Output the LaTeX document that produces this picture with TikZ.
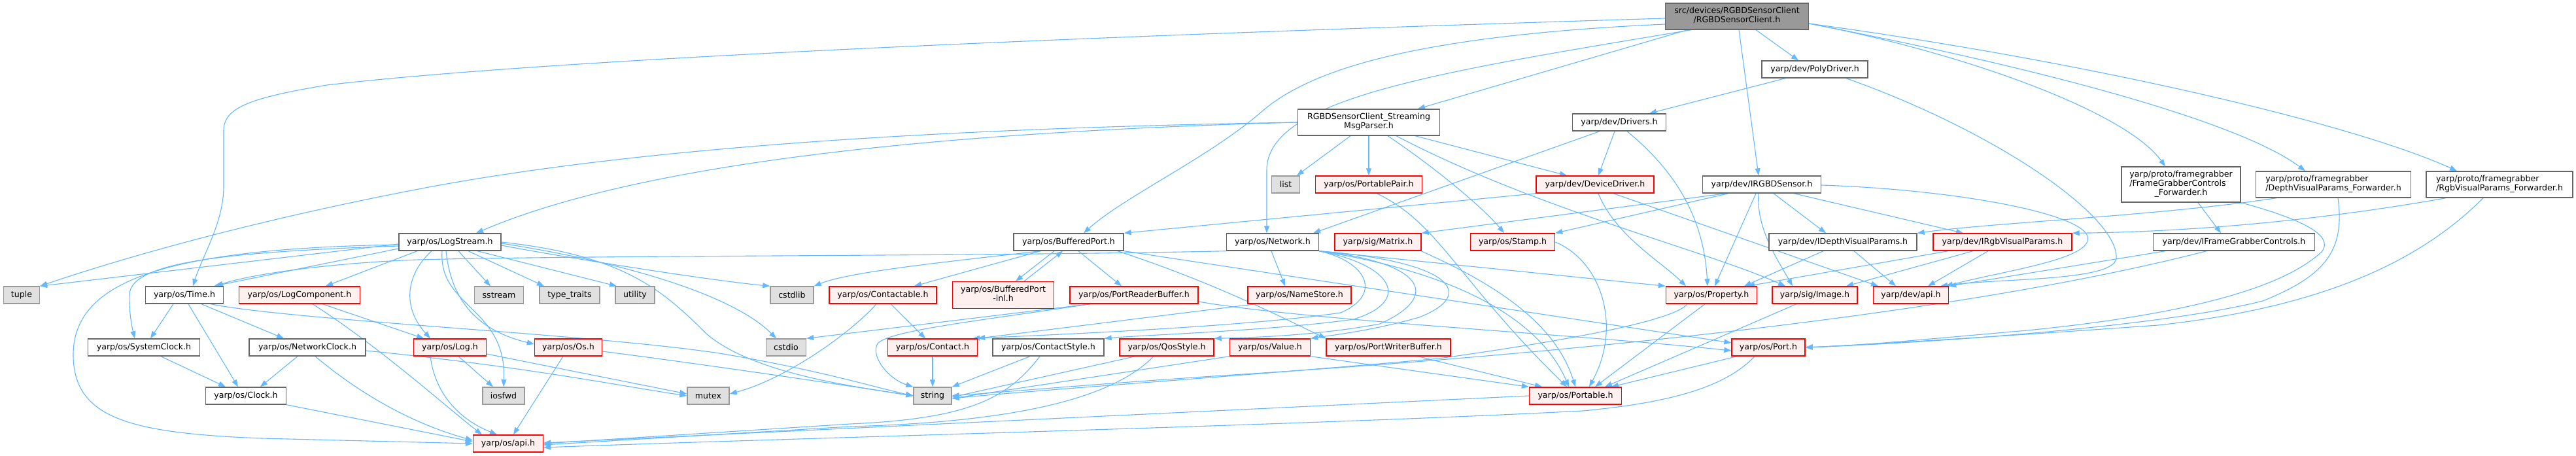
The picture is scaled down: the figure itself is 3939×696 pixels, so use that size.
\documentclass[tikz,border=0pt]{standalone}
\usepackage{fontspec}
\setmainfont{DejaVu Sans}
\usetikzlibrary{arrows.meta}
\definecolor{edgeblue}{HTML}{63B8FF}
\definecolor{nodegray}{HTML}{666666}
\definecolor{nodered}{HTML}{FF0000}
\definecolor{nodepink}{HTML}{FFF0F0}
\definecolor{sysborder}{HTML}{999999}
\definecolor{sysfill}{HTML}{E0E0E0}
\definecolor{rootfill}{HTML}{999999}
\newcommand{\nfont}{\fontsize{12.6}{14}\selectfont}
\newcommand{\twol}[2]{\begin{tabular}{@{}l@{}}#1\\\multicolumn{1}{@{}c@{}}{#2}\end{tabular}}
\newcommand{\threel}[3]{\begin{tabular}{@{}l@{}}#1\\#2\\\multicolumn{1}{@{}c@{}}{#3}\end{tabular}}
\pgfdeclarelayer{bg}
\pgfsetlayers{bg,main}
\tikzset{
  nb/.style={draw=nodegray, fill=white, line width=1.4pt, inner sep=0pt, minimum height=26pt, font=\nfont},
  rd/.style={nb, draw=nodered, fill=nodepink},
  sy/.style={nb, draw=sysborder, fill=sysfill},
  rt/.style={nb, draw=nodegray, fill=rootfill},
  e/.style={draw=edgeblue, line width=1.1pt, -{Triangle[length=11pt,width=8pt]}},
}
\begin{document}
\begin{tikzpicture}[x=1pt,y=-1pt]
\useasboundingbox (0,0) rectangle (3939,696);
% ---------- nodes ----------
\node[rt, minimum width=219pt, minimum height=40pt] (root) at (2656,25) {\twol{src/devices/RGBDSensorClient}{/RGBDSensorClient.h}};
\node[nb, minimum width=162pt] (pd) at (2775,106) {yarp/dev/PolyDriver.h};
\node[nb, minimum width=217pt, minimum height=40pt] (mp) at (2093,187) {\twol{RGBDSensorClient\_Streaming}{MsgParser.h}};
\node[nb, minimum width=143pt] (drv) at (2476,187) {yarp/dev/Drivers.h};
\node[sy, minimum width=43pt] (list) at (1966,282) {list};
\node[rd, minimum width=163pt] (pp) at (2093,282) {yarp/os/PortablePair.h};
\node[rd, minimum width=180pt] (dd) at (2439,282) {yarp/dev/DeviceDriver.h};
\node[nb, minimum width=181pt] (irs) at (2694,282) {yarp/dev/IRGBDSensor.h};
\node[nb, minimum width=182pt, minimum height=54pt] (fgcf) at (3335,282) {\threel{yarp/proto/framegrabber}{/FrameGrabberControls}{\_Forwarder.h}};
\node[nb, minimum width=237pt, minimum height=40pt] (dvpf) at (3568,282) {\twol{yarp/proto/framegrabber}{/DepthVisualParams\_Forwarder.h}};
\node[nb, minimum width=224pt, minimum height=40pt] (rvpf) at (3822,282) {\twol{yarp/proto/framegrabber}{/RgbVisualParams\_Forwarder.h}};
\node[nb, minimum width=156pt] (ls) at (688,370) {yarp/os/LogStream.h};
\node[nb, minimum width=168pt] (bp) at (1634,370) {yarp/os/BufferedPort.h};
\node[nb, minimum width=141pt] (nw) at (1946,370) {yarp/os/Network.h};
\node[rd, minimum width=132pt] (mat) at (2107,370) {yarp/sig/Matrix.h};
\node[rd, minimum width=129pt] (stamp) at (2313,370) {yarp/os/Stamp.h};
\node[nb, minimum width=226pt] (idvp) at (2818,370) {yarp/dev/IDepthVisualParams.h};
\node[rd, minimum width=212pt] (irvp) at (3062,370) {yarp/dev/IRgbVisualParams.h};
\node[nb, minimum width=247pt] (ifgc) at (3416,370) {yarp/dev/IFrameGrabberControls.h};
\node[sy, minimum width=55pt] (tuple) at (33,451) {tuple};
\node[nb, minimum width=119pt] (time) at (282,451) {yarp/os/Time.h};
\node[rd, minimum width=185pt] (logc) at (458,451) {yarp/os/LogComponent.h};
\node[sy, minimum width=75pt] (sstream) at (763,451) {sstream};
\node[sy, minimum width=92pt] (tt) at (871,451) {type\_traits};
\node[sy, minimum width=60pt] (util) at (971,451) {utility};
\node[sy, minimum width=66pt] (cstdlib) at (1211,451) {cstdlib};
\node[rd, minimum width=164pt] (ctb) at (1350,451) {yarp/os/Contactable.h};
\node[rd, minimum width=155pt, minimum height=41pt] (bpinl) at (1534,451) {\twol{yarp/os/BufferedPort}{-inl.h}};
\node[rd, minimum width=196pt] (prb) at (1734,451) {yarp/os/PortReaderBuffer.h};
\node[rd, minimum width=158pt] (ns) at (1987,451) {yarp/os/NameStore.h};
\node[rd, minimum width=139pt] (prop) at (2617,451) {yarp/os/Property.h};
\node[rd, minimum width=130pt] (img) at (2775,451) {yarp/sig/Image.h};
\node[rd, minimum width=115pt] (devapi) at (2922,451) {yarp/dev/api.h};
\node[nb, minimum width=171pt] (sysc) at (220,531) {yarp/os/SystemClock.h};
\node[nb, minimum width=178pt] (netc) at (470,531) {yarp/os/NetworkClock.h};
\node[rd, minimum width=111pt] (log) at (688,531) {yarp/os/Log.h};
\node[rd, minimum width=103pt] (os) at (869,531) {yarp/os/Os.h};
\node[sy, minimum width=61pt] (cstdio) at (1202,531) {cstdio};
\node[rd, minimum width=137pt] (contact) at (1426,531) {yarp/os/Contact.h};
\node[nb, minimum width=170pt] (cstyle) at (1603,531) {yarp/os/ContactStyle.h};
\node[rd, minimum width=144pt] (qos) at (1784,531) {yarp/os/QosStyle.h};
\node[rd, minimum width=123pt] (value) at (1942,531) {yarp/os/Value.h};
\node[rd, minimum width=190pt] (pwb) at (2123,531) {yarp/os/PortWriterBuffer.h};
\node[rd, minimum width=112pt] (port) at (2704,531) {yarp/os/Port.h};
\node[nb, minimum width=123pt] (clock) at (376,605) {yarp/os/Clock.h};
\node[sy, minimum width=64pt] (iosfwd) at (770,605) {iosfwd};
\node[sy, minimum width=64pt] (mutex) at (1083,605) {mutex};
\node[sy, minimum width=58pt] (string) at (1426,605) {string};
\node[rd, minimum width=141pt] (portable) at (2409,605) {yarp/os/Portable.h};
\node[rd, minimum width=107pt] (osapi) at (777,678) {yarp/os/api.h};
% ---------- edges ----------
\begin{pgfonlayer}{bg}
\fill[white] (0,0) rectangle (3939,696);
% root
\draw[e] ([xshift=-76pt]root.south) -- ([xshift=75pt]mp.north);
\draw[e] ([xshift=29pt]root.south) -- ([xshift=-25pt]pd.north);
\draw[e] ([xshift=3pt]root.south) -- ([xshift=-5pt]irs.north);
\draw[e] ([yshift=-11pt]root.east) .. controls (3000,80) and (3250,170) .. ([xshift=-24pt]fgcf.north);
\draw[e] ([yshift=-11pt]root.east) .. controls (3150,110) and (3430,190) .. ([xshift=-43pt]dvpf.north);
\draw[e] ([yshift=-11pt]root.east) .. controls (3200,95) and (3600,190) .. ([xshift=-65pt]rvpf.north);
\draw[e] ([yshift=-3pt]root.west) .. controls (1500,60) and (800,95) .. (500,130) .. controls (380,150) and (342,165) .. (342,200) -- (342,285) .. controls (342,340) and (310,390) .. ([xshift=13pt]time.north);
\draw[e] ([yshift=-12pt]root.west) .. controls (2150,55) and (2000,110) .. (1930,170) .. controls (1850,240) and (1720,300) .. ([xshift=23pt]bp.north);
\draw[e] ([xshift=-70pt]root.south) .. controls (2200,110) and (1937,150) .. (1937,260) -- ([xshift=-9pt]nw.north);
% PolyDriver, Drivers
\draw[e] ([xshift=-45pt]pd.south) -- ([xshift=46pt]drv.north);
\draw[e] ([xshift=48pt]pd.south) .. controls (3050,200) and (3240,330) .. (3236,395) .. controls (3232,430) and (3060,425) .. ([xshift=45pt]devapi.north);
\draw[e] ([xshift=-7pt]drv.south) -- ([xshift=5pt]dd.north);
\draw[e] ([xshift=-30pt]drv.south) -- ([xshift=62pt]nw.north);
\draw[e] ([xshift=12pt]drv.south) .. controls (2560,260) and (2605,330) .. ([xshift=-6pt]prop.north);
% MsgParser
\draw[e] ([xshift=-28pt]mp.south) -- ([xshift=17pt]list.north);
\draw[e] (mp.south) -- (pp.north);
\draw[e] (mp.west) .. controls (1500,200) and (1000,240) .. ([xshift=40pt]ls.north);
\draw[e] (mp.west) .. controls (1500,195) and (1000,220) .. (640,289) .. controls (400,335) and (200,390) .. (tuple.north east);
\draw[e] ([xshift=29pt]mp.south) .. controls (2200,260) and (2270,320) .. ([xshift=-13pt]stamp.north);
\draw[e] ([xshift=42pt]mp.south) .. controls (2350,320) and (2600,380) .. ([xshift=-45pt]img.north);
\draw[e] ([xshift=71pt]mp.south) -- ([xshift=-43pt]dd.north);
% DeviceDriver
\draw[e] (dd.south west) -- (bp.north east);
\draw[e] ([xshift=5pt]dd.south) .. controls (2470,360) and (2540,400) .. ([xshift=-39pt]prop.north);
\draw[e] ([xshift=28pt]dd.south) -- ([xshift=-50pt]devapi.north);
% IRGBDSensor
\draw[e] ([xshift=-51pt]irs.south) -- (stamp.north east);
\draw[e] ([xshift=-55pt]irs.south) -- (mat.north east);
\draw[e] ([xshift=-9pt]irs.south) -- ([xshift=5pt]prop.north);
\draw[e] ([xshift=-5pt]irs.south) .. controls (2685,350) and (2720,400) .. ([xshift=-34pt]img.north);
\draw[e] ([xshift=18pt]irs.south) -- ([xshift=-26pt]idvp.north);
\draw[e] ([xshift=49pt]irs.south) -- ([xshift=-60pt]irvp.north);
\draw[e] ([yshift=-1pt]irs.east) .. controls (3000,290) and (3205,330) .. (3192,368) .. controls (3185,398) and (3060,415) .. ([xshift=53pt]devapi.north);
% forwarders
\draw[e] ([xshift=26pt]fgcf.south) -- ([xshift=-20pt]ifgc.north);
\draw[e] (fgcf.south east) .. controls (3520,335) and (3570,360) .. (3550,385) .. controls (3480,450) and (3300,485) .. (3100,505) .. controls (2950,518) and (2850,528) .. (port.east);
\draw[e] ([xshift=7pt]dvpf.south) .. controls (3585,380) and (3560,420) .. (3460,460) .. controls (3300,500) and (2950,524) .. (port.east);
\draw[e] ([xshift=-25pt]rvpf.south) .. controls (3700,400) and (3550,470) .. (3300,497) .. controls (3050,515) and (2850,527) .. (port.east);
\draw[e] ([xshift=-87pt]dvpf.south) .. controls (3300,330) and (3050,340) .. (idvp.north east);
\draw[e] ([xshift=-82pt]rvpf.south) .. controls (3500,345) and (3300,355) .. (irvp.north east);
% visual params, frame grabber controls
\draw[e] ([xshift=-30pt]idvp.south) -- ([xshift=50pt]prop.north);
\draw[e] ([xshift=17pt]idvp.south) -- ([xshift=-23pt]devapi.north);
\draw[e] ([xshift=-83pt]irvp.south) -- ([xshift=55pt]prop.north);
\draw[e] ([xshift=-45pt]irvp.south) -- ([xshift=48pt]img.north);
\draw[e] ([xshift=-22pt]irvp.south) -- ([xshift=26pt]devapi.north);
\draw[e] ([xshift=-105pt]ifgc.south) -- (devapi.north east);
\draw[e] ([xshift=-42pt]ifgc.south) .. controls (3000,480) and (2400,540) .. (1900,572) .. controls (1700,585) and (1550,598) .. (string.east);
% LogStream
\draw[e] ([yshift=-3pt]ls.west) -- (tuple.north east);
\draw[e] ([yshift=-10pt]ls.west) -- ([xshift=45pt]time.north);
\draw[e] ([yshift=-6pt]ls.west) .. controls (350,385) and (200,400) .. (198,450) .. controls (197,480) and (203,505) .. ([xshift=-14pt]sysc.north);
\draw[e] ([xshift=-50pt]ls.south) -- ([xshift=40pt]logc.north);
\draw[e] ([xshift=-28pt]ls.south) .. controls (620,420) and (615,470) .. ([xshift=-30pt]log.north);
\draw[e] ([xshift=-6pt]ls.south) .. controls (690,460) and (730,505) .. ([yshift=5pt]os.west);
\draw[e] ([xshift=-12pt]ls.south) .. controls (670,470) and (775,470) .. (iosfwd.north);
\draw[e] ([xshift=13pt]ls.south) -- ([xshift=-13pt]sstream.north);
\draw[e] ([xshift=28pt]ls.south) -- ([xshift=-39pt]tt.north);
\draw[e] ([xshift=42pt]ls.south) -- ([xshift=-28pt]util.north);
\draw[e] ([yshift=-5pt]ls.east) .. controls (900,400) and (1100,430) .. (cstdlib.north west);
\draw[e] ([yshift=-2pt]ls.east) .. controls (950,400) and (1120,450) .. ([xshift=-15pt]cstdio.north);
\draw[e] (ls.east) .. controls (950,390) and (1010,440) .. (1080,510) .. controls (1150,570) and (1300,590) .. (string.west);
\draw[e] ([yshift=-4pt]ls.west) .. controls (250,380) and (110,430) .. (112,545) .. controls (114,640) and (200,662) .. (400,670) -- (osapi.west);
% Time and clocks
\draw[e] ([xshift=-17pt]time.south) -- ([xshift=10pt]sysc.north);
\draw[e] ([xshift=6pt]time.south) -- ([xshift=-12pt]clock.north);
\draw[e] ([xshift=26pt]time.south) -- ([xshift=-36pt]netc.north);
\draw[e] ([xshift=40pt]time.south) .. controls (450,490) and (900,510) .. (1100,540) .. controls (1250,565) and (1330,590) .. (string.west);
\draw[e] ([xshift=26pt]sysc.south) -- ([xshift=-31pt]clock.north);
\draw[e] ([xshift=-15pt]netc.south) -- ([xshift=22pt]clock.north);
\draw[e] ([xshift=12pt]netc.south) .. controls (560,610) and (640,650) .. ([yshift=5pt]osapi.west);
\draw[e] ([yshift=-5pt]netc.east) .. controls (800,560) and (950,590) .. (mutex.west);
\draw[e] (clock.south east) -- ([yshift=3pt]osapi.west);
% log component, log, os
\draw[e] ([xshift=35pt]logc.south) -- ([xshift=-40pt]log.north);
\draw[e] ([xshift=20pt]logc.south) .. controls (580,530) and (680,620) .. ([xshift=-40pt]osapi.north);
\draw[e] ([xshift=-30pt]log.south) .. controls (665,600) and (700,640) .. ([xshift=-17pt]osapi.north);
\draw[e] ([xshift=13pt]log.south) -- ([xshift=-16pt]iosfwd.north);
\draw[e] ([yshift=-10pt]log.east) -- ([yshift=3pt]mutex.west);
\draw[e] ([xshift=-8pt]os.south) -- ([xshift=8pt]osapi.north);
\draw[e] ([yshift=-6pt]os.east) .. controls (1100,560) and (1300,590) .. (string.west);
% BufferedPort
\draw[e] ([xshift=-43pt]bp.south) -- ([xshift=48pt]ctb.north);
\draw[e] ([xshift=-22pt]bp.south) -- ([xshift=19pt]bpinl.north);
\draw[e] ([xshift=32pt]bpinl.north) -- ([xshift=-9pt]bp.south);
\draw[e] ([xshift=15pt]bp.south) -- ([xshift=-19pt]prb.north);
\draw[e] (bp.south east) -- ([yshift=7pt]port.west);
\draw[e] ([xshift=75pt]bp.south) .. controls (1850,430) and (1950,480) .. (pwb.north west);
\draw[e] ([xshift=-43pt]bp.south) .. controls (1450,400) and (1300,415) .. (cstdlib.north east);
% Network
\draw[e] (nw.south west) .. controls (1500,392) and (900,390) .. (640,397) .. controls (500,402) and (380,420) .. ([xshift=48pt]time.north);
\draw[e] ([xshift=-2pt]nw.south) -- ([xshift=-22pt]ns.north);
\draw[e] (nw.south east) .. controls (2090,400) and (2115,450) .. (2050,478) .. controls (1900,500) and (1600,512) .. ([xshift=-8pt]contact.north east);
\draw[e] (nw.south east) .. controls (2130,405) and (2160,460) .. (2070,488) .. controls (1950,505) and (1750,512) .. (cstyle.north east);
\draw[e] (nw.south east) .. controls (2170,400) and (2210,450) .. (2110,495) .. controls (2020,512) and (1920,516) .. (qos.north east);
\draw[e] (nw.south east) .. controls (2220,400) and (2260,450) .. (2170,485) .. controls (2100,505) and (2040,512) .. (value.north east);
\draw[e] (nw.south east) .. controls (2250,420) and (2360,500) .. ([xshift=-10pt]portable.north);
\draw[e] (nw.south east) -- (prop.north west);
\draw[e] ([xshift=-67pt]ns.south) -- (contact.north east);
% Contactable, PortReaderBuffer
\draw[e] ([xshift=12pt]ctb.south) -- ([xshift=-11pt]contact.north);
\draw[e] ([xshift=-10pt]ctb.south) .. controls (1300,510) and (1200,580) .. ([yshift=3pt]mutex.east);
\draw[e] ([xshift=-67pt]prb.south) .. controls (1500,490) and (1360,505) .. (1342,525) .. controls (1330,545) and (1360,580) .. (string.north west);
\draw[e] ([xshift=-67pt]prb.south) -- (cstdio.north east);
\draw[e] ([yshift=-10pt]prb.east) .. controls (2000,490) and (2400,510) .. ([yshift=-5pt]port.west);
% Contact, styles, value, writer buffer
\draw[e] (contact.south) -- (string.north);
\draw[e] ([xshift=-28pt]cstyle.south) -- (string.north east);
\draw[e] ([xshift=-13pt]cstyle.south) .. controls (1540,610) and (1480,640) .. (1300,648) -- (osapi.east);
\draw[e] ([xshift=-48pt]qos.south) -- ([yshift=-2pt]string.east);
\draw[e] ([xshift=-20pt]qos.south) .. controls (1700,610) and (1550,645) .. (1300,652) -- ([yshift=-2pt]osapi.east);
\draw[e] (value.south west) -- ([yshift=-4pt]string.east);
\draw[e] (value.south east) -- (portable.north west);
\draw[e] ([xshift=45pt]pwb.south) -- ([xshift=-51pt]portable.north);
% Port, Property, Image, Stamp, Matrix, PortablePair, Portable
\draw[e] ([xshift=-48pt]port.south) -- ([xshift=55pt]portable.north);
\draw[e] ([xshift=-21pt]port.south) .. controls (2640,590) and (2560,615) .. (2420,628) .. controls (2000,650) and (1200,670) .. ([yshift=-6pt]osapi.east);
\draw[e] ([xshift=-37pt]prop.south) .. controls (2560,490) and (2400,520) .. (2200,548) .. controls (1900,575) and (1600,595) .. ([yshift=-4pt]string.east);
\draw[e] ([xshift=-10pt]prop.south) -- ([xshift=30pt]portable.north);
\draw[e] ([xshift=-28pt]img.south) -- ([xshift=45pt]portable.north);
\draw[e] (stamp.east) .. controls (2450,400) and (2480,500) .. ([xshift=21pt]portable.north);
\draw[e] ([xshift=66pt]mat.south) .. controls (2300,440) and (2380,500) .. (portable.north);
\draw[e] ([xshift=12pt]pp.south) .. controls (2200,340) and (2230,430) .. ([xshift=-13pt]portable.north);
\draw[e] (portable.west) -- ([yshift=1pt]osapi.east);
\end{pgfonlayer}
\end{tikzpicture}
\end{document}
